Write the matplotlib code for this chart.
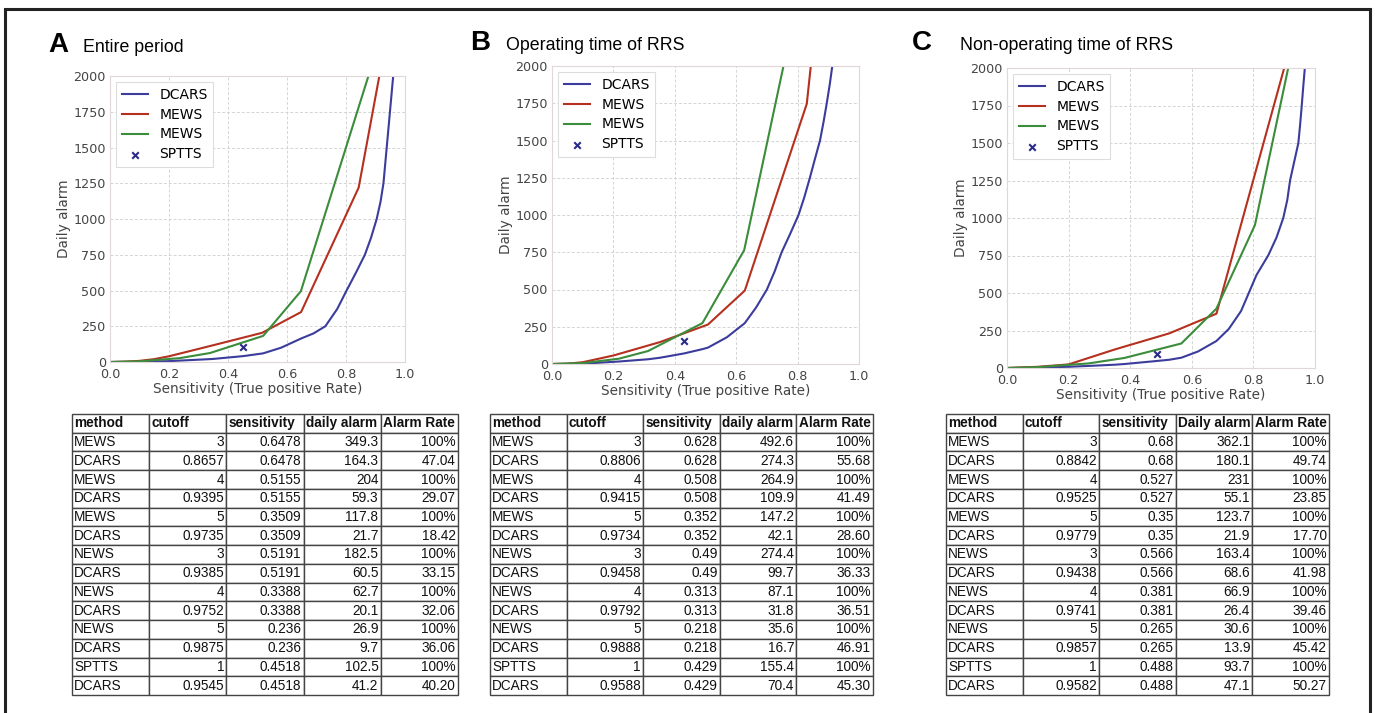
import matplotlib
matplotlib.use("Agg")
import matplotlib.pyplot as plt
from matplotlib.patches import Rectangle

# curve data (sensitivity, daily alarm)
dcars_a_x = [0.0, 0.1, 0.2, 0.236, 0.3388, 0.3509, 0.4518, 0.5155, 0.5191, 0.58, 0.6478, 0.69, 0.73, 0.77,
             0.802, 0.835, 0.864, 0.885, 0.904, 0.917, 0.927, 0.938, 0.949, 0.96]
dcars_a_y = [0, 2, 6, 9.7, 20.1, 21.7, 41.2, 59.3, 60.5, 100, 164.3, 200, 250, 370,
             500, 630, 750, 870, 1000, 1120, 1250, 1500, 1750, 2000]
mews_a_x = [0.0, 0.05, 0.1, 0.15, 0.2, 0.3509, 0.5155, 0.6478, 0.843, 0.913]
mews_a_y = [0, 2, 8, 20, 40, 117.8, 204, 349.3, 1220, 2000]
news_a_x = [0.0, 0.1, 0.236, 0.3388, 0.5191, 0.647, 0.876]
news_a_y = [0, 5, 26.9, 62.7, 182.5, 495, 2000]
sptts_a = (0.4518, 102.5)

dcars_b_x = [0.0, 0.1, 0.218, 0.313, 0.352, 0.429, 0.49, 0.508, 0.57, 0.628, 0.665, 0.70, 0.725, 0.748,
             0.775, 0.803, 0.822, 0.84, 0.857, 0.873, 0.885, 0.895, 0.905, 0.913]
dcars_b_y = [0, 2, 16.7, 31.8, 42.1, 70.4, 99.7, 109.9, 180, 274.3, 380, 500, 620, 750,
             870, 1000, 1120, 1250, 1380, 1500, 1630, 1750, 1880, 2000]
mews_b_x = [0.0, 0.05, 0.1, 0.2, 0.352, 0.508, 0.628, 0.83, 0.843]
mews_b_y = [0, 2, 12, 57, 147.2, 264.9, 492.6, 1747, 2000]
news_b_x = [0.0, 0.1, 0.218, 0.313, 0.49, 0.626, 0.754]
news_b_y = [0, 6, 35.6, 87.1, 274.4, 764, 2000]
sptts_b = (0.429, 155.4)

dcars_c_x = [0.0, 0.1, 0.2, 0.265, 0.35, 0.381, 0.488, 0.527, 0.566, 0.62, 0.68, 0.72, 0.76, 0.785,
             0.81, 0.848, 0.875, 0.897, 0.91, 0.919, 0.933, 0.946, 0.952, 0.957, 0.962, 0.967]
dcars_c_y = [0, 3, 8, 13.9, 21.9, 26.4, 47.1, 55.1, 68.6, 110, 180.1, 260, 380, 500,
             620, 750, 870, 1000, 1120, 1250, 1380, 1500, 1630, 1750, 1880, 2000]
mews_c_x = [0.0, 0.1, 0.2, 0.35, 0.527, 0.68, 0.90]
mews_c_y = [0, 8, 24, 123.7, 231, 362.1, 2000]
news_c_x = [0.0, 0.1, 0.265, 0.381, 0.566, 0.68, 0.805, 0.913]
news_c_y = [0, 6, 30.6, 66.9, 163.4, 396, 953, 2000]
sptts_c = (0.488, 93.7)

# table data
methods = ["MEWS", "DCARS", "MEWS", "DCARS", "MEWS", "DCARS", "NEWS", "DCARS",
           "NEWS", "DCARS", "NEWS", "DCARS", "SPTTS", "DCARS"]
header_ab = ["method", "cutoff", "sensitivity", "daily alarm", "Alarm Rate"]
header_c = ["method", "cutoff", "sensitivity", "Daily alarm", "Alarm Rate"]

cutoff_a = ["3", "0.8657", "4", "0.9395", "5", "0.9735", "3", "0.9385", "4", "0.9752", "5", "0.9875", "1", "0.9545"]
sens_a = ["0.6478", "0.6478", "0.5155", "0.5155", "0.3509", "0.3509", "0.5191", "0.5191",
          "0.3388", "0.3388", "0.236", "0.236", "0.4518", "0.4518"]
alarm_a = ["349.3", "164.3", "204", "59.3", "117.8", "21.7", "182.5", "60.5", "62.7", "20.1", "26.9", "9.7", "102.5", "41.2"]
rate_a = ["100%", "47.04", "100%", "29.07", "100%", "18.42", "100%", "33.15", "100%", "32.06", "100%", "36.06", "100%", "40.20"]

cutoff_b = ["3", "0.8806", "4", "0.9415", "5", "0.9734", "3", "0.9458", "4", "0.9792", "5", "0.9888", "1", "0.9588"]
sens_b = ["0.628", "0.628", "0.508", "0.508", "0.352", "0.352", "0.49", "0.49",
          "0.313", "0.313", "0.218", "0.218", "0.429", "0.429"]
alarm_b = ["492.6", "274.3", "264.9", "109.9", "147.2", "42.1", "274.4", "99.7", "87.1", "31.8", "35.6", "16.7", "155.4", "70.4"]
rate_b = ["100%", "55.68", "100%", "41.49", "100%", "28.60", "100%", "36.33", "100%", "36.51", "100%", "46.91", "100%", "45.30"]

cutoff_c = ["3", "0.8842", "4", "0.9525", "5", "0.9779", "3", "0.9438", "4", "0.9741", "5", "0.9857", "1", "0.9582"]
sens_c = ["0.68", "0.68", "0.527", "0.527", "0.35", "0.35", "0.566", "0.566",
          "0.381", "0.381", "0.265", "0.265", "0.488", "0.488"]
alarm_c = ["362.1", "180.1", "231", "55.1", "123.7", "21.9", "163.4", "68.6", "66.9", "26.4", "30.6", "13.9", "93.7", "47.1"]
rate_c = ["100%", "49.74", "100%", "23.85", "100%", "17.70", "100%", "41.98", "100%", "39.46", "100%", "45.42", "100%", "50.27"]

W, H = 1375, 713
BLUE, RED, GREEN = "#3b3c9c", "#b5301f", "#3b8c3b"


def fx(px):
    return px / W


def fy(py):
    return 1 - py / H


def draw_panel(rect, dx, dy, mx, my, nx, ny, sp):
    ax = fig.add_axes(rect)
    ax.plot(dx, dy, color=BLUE, lw=1.5, label="DCARS")
    ax.plot(mx, my, color=RED, lw=1.5, label="MEWS")
    ax.plot(nx, ny, color=GREEN, lw=1.5, label="MEWS")
    ax.scatter([sp[0]], [sp[1]], marker="x", s=22, color="#2a2a8a", linewidths=1.5, label="SPTTS", zorder=3)
    ax.set_xlim(0, 1)
    ax.set_ylim(0, 2000)
    ax.set_xticks([0, 0.2, 0.4, 0.6, 0.8, 1.0])
    ax.set_yticks(range(0, 2001, 250))
    ax.grid(True, ls=(0, (3, 2)), color="#d4d4d4", lw=0.7)
    ax.set_axisbelow(True)
    for s in ax.spines.values():
        s.set_color("#e3d6d6")
        s.set_linewidth(0.8)
    ax.tick_params(length=0, labelsize=9.2, colors="#444444")
    ax.tick_params(axis="x", pad=4)
    ax.tick_params(axis="y", pad=3)
    ax.set_xlabel("Sensitivity (True positive Rate)", fontsize=9.8, color="#444444", labelpad=1)
    ax.set_ylabel("Daily alarm", fontsize=9.8, color="#444444", labelpad=2)
    leg = ax.legend(loc="upper left", fontsize=10, handlelength=1.9, handletextpad=0.8,
                    labelspacing=0.42, borderaxespad=0.45, framealpha=1, fancybox=False)
    leg.get_frame().set_edgecolor("#dddddd")
    leg.get_frame().set_linewidth(0.8)
    return ax


def draw_table(rect, header, cols):
    ax = fig.add_axes(rect)
    ax.axis("off")
    rows = list(zip(*cols))
    tb = ax.table(cellText=rows, colLabels=header, bbox=[0, 0, 1, 1], cellLoc="right", colLoc="left")
    tb.auto_set_font_size(False)
    for (r, c), cell in tb.get_celld().items():
        cell.PAD = 0.03
        cell.set_edgecolor("#444444")
        cell.set_linewidth(1.0)
        t = cell.get_text()
        t.set_fontsize(9.8)
        t.set_family("Liberation Sans")
        t.set_color("#111111")
        if r == 0:
            t.set_fontweight("bold")
            t.set_ha("left")
            cell._loc = "left"
        elif c == 0:
            cell._loc = "left"
            t.set_ha("left")
    return ax


fig = plt.figure(figsize=(W / 100, H / 100), dpi=100)

# outer frame
fig.add_artist(Rectangle((fx(5), -0.01), fx(1370 - 5), 1 - 9 / H + 0.01, transform=fig.transFigure,
                         fill=False, lw=2.2, ec="#222222"))

draw_panel([fx(110), fy(362), fx(295), 286 / H], dcars_a_x, dcars_a_y, mews_a_x, mews_a_y, news_a_x, news_a_y, sptts_a)
draw_panel([fx(552), fy(364), fx(307), 298 / H], dcars_b_x, dcars_b_y, mews_b_x, mews_b_y, news_b_x, news_b_y, sptts_b)
draw_panel([fx(1007), fy(368), fx(308), 300 / H], dcars_c_x, dcars_c_y, mews_c_x, mews_c_y, news_c_x, news_c_y, sptts_c)

# panel letters and titles
for lx, tx, ty, letter, title in [(48, 83, 45, "A", "Entire period"),
                                  (470, 506, 43, "B", "Operating time of RRS"),
                                  (912, 960, 43, "C", "Non-operating time of RRS")]:
    fig.text(fx(lx), fy(ty), letter, fontsize=20, fontweight="bold", family="Liberation Sans", va="center", ha="left")
    fig.text(fx(tx), fy(ty + 2), title, fontsize=12.8, family="Liberation Sans", va="center", ha="left")

tab_b, tab_h = fy(695), 281 / H
draw_table([fx(72), tab_b, fx(386), tab_h], header_ab, [methods, cutoff_a, sens_a, alarm_a, rate_a])
draw_table([fx(490), tab_b, fx(383), tab_h], header_ab, [methods, cutoff_b, sens_b, alarm_b, rate_b])
draw_table([fx(946), tab_b, fx(383), tab_h], header_c, [methods, cutoff_c, sens_c, alarm_c, rate_c])

fig.savefig("out.png", dpi=100)
